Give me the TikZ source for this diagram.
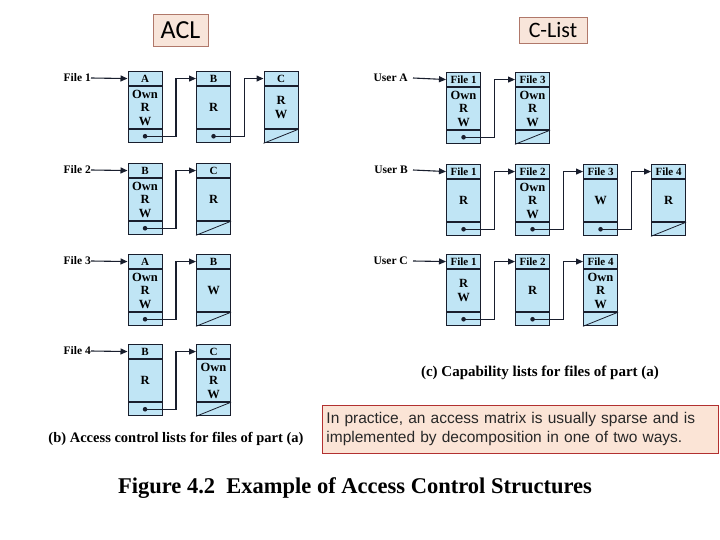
\documentclass[tikz,border=0pt]{standalone}
\usepackage{fontspec}
\setmainfont{Liberation Serif}
\newfontfamily\calibri{Carlito}
\newfontfamily\arialfont{Liberation Sans}
\usetikzlibrary{arrows.meta,calc}
\definecolor{cellblue}{RGB}{192,229,245}
\definecolor{celledge}{RGB}{25,30,45}
\definecolor{tagfill}{RGB}{248,229,218}
\definecolor{tagedge}{RGB}{176,120,106}
\definecolor{notefill}{RGB}{251,228,214}
\definecolor{noteedge}{RGB}{178,48,48}
\tikzset{
  cell/.style={draw=celledge, fill=cellblue, line width=1.1pt, minimum width=34pt,
    inner sep=0pt, anchor=north west, align=center},
  headtxt/.style={font=\bfseries\fontsize{11}{12}\selectfont},
  bodytxt/.style={font=\bfseries\fontsize{12.5}{13.5}\selectfont},
  ptr/.style={draw=celledge, line width=1.1pt, -{Triangle[length=7pt,width=6pt]}},
  lab/.style={font=\bfseries\fontsize{11.5}{13}\selectfont, inner sep=0pt, anchor=east},
  tag/.style={draw=tagedge, fill=tagfill, line width=0.8pt, inner sep=0pt},
  note/.style={draw=noteedge, fill=notefill, line width=0.9pt, inner xsep=4pt,
    text width=388pt, align=left, minimum height=48pt, anchor=north west,
    font=\arialfont\fontsize{15.5}{19}\selectfont, text={rgb,255:red,40;green,40;blue,40}},
  captxt/.style={font=\bfseries\fontsize{15}{17}\selectfont}
}
\newcommand\accbox[5]{%
  \node[cell, headtxt, minimum height=14pt] (#1h) at (#2,#3) {#4};
  \node[cell, bodytxt, minimum height=42pt] (#1b) at (#1h.south west) {#5};
  \node[cell, minimum height=13pt] (#1f) at (#1b.south west) {};
}
\newcommand\linkto[2]{%
  \fill[celledge] (#1f.center) circle (2.3pt);
  \draw[ptr] (#1f.center) -- ($(#1f.east)!0.4!(#2f.west)$) |- (#2h.west);
}
\newcommand\nilptr[1]{\draw[celledge, line width=0.8pt] (#1f.south west) -- (#1f.north east);}
\begin{document}
\begin{tikzpicture}[x=1pt,y=-1pt]
\useasboundingbox (0,0) rectangle (720,540);

% titles
\node[tag, font=\calibri\fontsize{26}{28}\selectfont, minimum width=55pt, minimum height=32pt] (acl) at (180.5,30) {ACL};
\node[tag, font=\calibri\fontsize{22}{24}\selectfont, minimum width=68pt, minimum height=26pt] (clist) at (553,30) {C-List};

% ACL rows
\node[lab] (f1) at (91,78) {File 1};
\accbox{aA}{127.5}{71}{A}{Own\\R\\W}
\accbox{aB}{196}{71}{B}{R}
\accbox{aC}{263.5}{71}{C}{R\\W}
\draw[ptr] (f1.east) -- (aAh.west);
\linkto{aA}{aB}\linkto{aB}{aC}\nilptr{aC}

\node[lab] (f2) at (91,170) {File 2};
\accbox{bB}{127.5}{163}{B}{Own\\R\\W}
\accbox{bC}{196}{163}{C}{R}
\draw[ptr] (f2.east) -- (bBh.west);
\linkto{bB}{bC}\nilptr{bC}

\node[lab] (f3) at (91,261) {File 3};
\accbox{cA}{127.5}{254}{A}{Own\\R\\W}
\accbox{cB}{196}{254}{B}{W}
\draw[ptr] (f3.east) -- (cAh.west);
\linkto{cA}{cB}\nilptr{cB}

\node[lab] (f4) at (91,351) {File 4};
\accbox{dB}{127.5}{344}{B}{R}
\accbox{dC}{196}{344}{C}{Own\\R\\W}
\draw[ptr] (f4.east) -- (dBh.west);
\linkto{dB}{dC}\nilptr{dC}

% C-List rows
\node[lab] (uA) at (408,78) {User A};
\accbox{uA1}{446}{72}{File 1}{Own\\R\\W}
\accbox{uA3}{515}{72}{File 3}{Own\\R\\W}
\draw[ptr] ([xshift=5pt]uA.east) -- (uA1h.west);
\linkto{uA1}{uA3}\nilptr{uA3}

\node[lab] (uB) at (408,170) {User B};
\accbox{uB1}{446}{164}{File 1}{R}
\accbox{uB2}{515}{164}{File 2}{Own\\R\\W}
\accbox{uB3}{583}{164}{File 3}{W}
\accbox{uB4}{651}{164}{File 4}{R}
\draw[ptr] ([xshift=5pt]uB.east) -- (uB1h.west);
\linkto{uB1}{uB2}\linkto{uB2}{uB3}\linkto{uB3}{uB4}\nilptr{uB4}

\node[lab] (uC) at (408,261) {User C};
\accbox{uC1}{446}{254}{File 1}{R\\W}
\accbox{uC2}{515}{254}{File 2}{R}
\accbox{uC4}{583}{254}{File 4}{Own\\R\\W}
\draw[ptr] ([xshift=5pt]uC.east) -- (uC1h.west);
\linkto{uC1}{uC2}\linkto{uC2}{uC4}\nilptr{uC4}

% captions
\node[captxt] (capc) at (540,373) {(c) Capability lists for files of part (a)};
\node[captxt, font=\bfseries\fontsize{14.5}{17}\selectfont] (capb) at (176,439) {(b) Access control lists for files of part (a)};
\node[note] (nt) at (322,405) {In practice, an access matrix is usually sparse and is\\implemented by decomposition in one of two ways.};
\node[font=\bfseries\fontsize{22.5}{26}\selectfont] (fig) at (355,488) {Figure 4.2\ \ Example of Access Control Structures};
\end{tikzpicture}
\end{document}
